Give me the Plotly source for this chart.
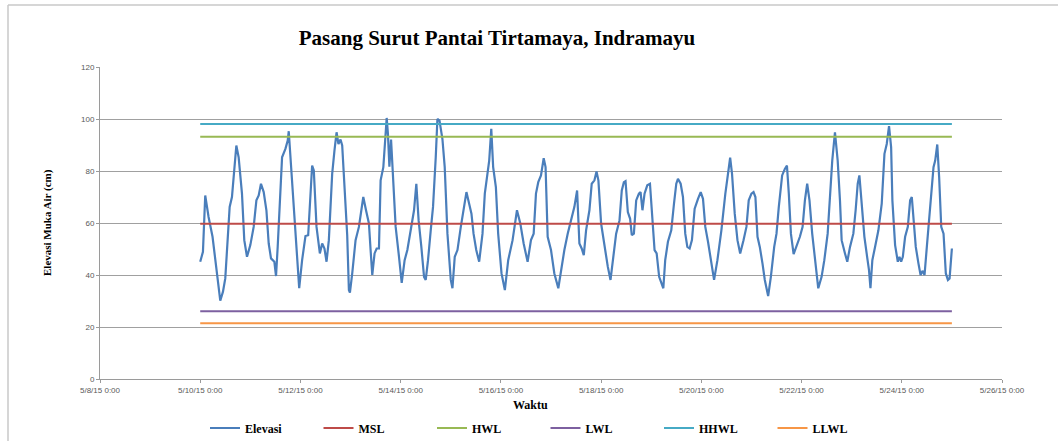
import pandas as pd
import plotly.graph_objects as go

# ---- data ----
start_time = "2015-05-10 00:00"
hours = [0, 1.3, 2.4, 4, 5.9, 7.2, 8.3, 9.6, 10.9, 12, 14.1, 15.2, 17.3, 18.4, 20, 21.1, 22.4,
         24, 25.6, 26.9, 28, 29.1, 30.4, 31.7, 32.8, 33.9, 35.5, 36.3, 37.1, 38.1, 39.2, 40.8,
         41.9, 42.4, 43.5, 44.8, 46.1, 47.4, 48.8, 50.4, 51.7, 52.8, 53.6, 54.4, 55.7, 57.3,
         58.4, 59.5, 60.5, 61.6, 63.2, 64.3, 65.3, 66.2, 67.2, 68, 69.1, 70.4, 71.2, 71.7,
         72.8, 74.4, 76, 78.1, 79.4, 80.8, 81.6, 82.4, 83.5, 84.5, 85.6, 86.4, 87.7, 88.5,
         89.3, 89.9, 90.6, 91.4, 92.2, 93.6, 95.2, 96.5, 97.9, 99.2, 100.8, 102.4, 103.5,
         104.6, 105.9, 107.2, 108, 109.1, 110.4, 111.5, 112.8, 113.6, 114.6, 116, 117.1,
         118.4, 120, 120.8, 121.9, 123.2, 124.8, 126.1, 127.5, 128.8, 129.9, 130.9, 132.2,
         133.6, 135.2, 136.3, 137.6, 138.4, 139.4, 140.3, 141.6, 142.7, 144.3, 145.9, 147.5,
         149.6, 151.7, 153.3, 154.9, 156.8, 158.4, 159.7, 160.8, 161.9, 163.2, 164.5, 165.4,
         166.4, 168, 169.6, 171.5, 172.8, 174.4, 176, 177.6, 179.2, 180.5, 181.6, 182.7,
         183.7, 184.8, 186.4, 187.5, 188.8, 189.8, 190.7, 192, 193.6, 195.2, 196.5, 197.6,
         199.2, 200.8, 201.9, 202.9, 203.7, 204.8, 205.9, 206.7, 207.7, 208.8, 210.1, 210.9,
         211.8, 212.8, 214.1, 215.4, 216.3, 217.6, 218.6, 219.8, 221.8, 222.7, 224, 225.6,
         226.9, 228, 228.8, 230.1, 231.2, 232.3, 233.3, 234.4, 235.5, 236.8, 238.4, 239.7,
         240.8, 241.9, 243.2, 244.5, 246.1, 247.7, 249.6, 251.5, 252.8, 253.8, 254.7, 256,
         257.3, 258.6, 260.2, 261.6, 262.7, 264, 265, 265.9, 266.9, 268, 269.3, 270.4, 272,
         273.3, 274.9, 276, 277.1, 278.7, 280, 281, 281.9, 282.9, 284.2, 285.6, 287.2, 288.5,
         289.6, 290.7, 291.8, 293.1, 294.4, 296, 297.6, 298.9, 300.5, 301.6, 302.7, 304,
         305.3, 306.4, 307.2, 308.8, 309.9, 311.2, 312.8, 313.9, 314.9, 315.7, 316.8, 318.1,
         319.4, 320.3, 321, 321.9, 323.2, 324.8, 326.4, 327.7, 328.8, 329.9, 330.9, 331.5,
         332.8, 334.1, 334.9, 335.7, 336.5, 337.6, 338.9, 340, 340.8, 341.8, 342.7, 344, 345,
         345.9, 346.9, 348, 349.6, 351.2, 352, 353, 353.9, 354.9, 356, 357.1, 358.1, 358.9,
         360]
elevasi = [45.1, 48.9, 70.6, 62.3, 54.7, 45.7, 40.6, 30.1, 33.6, 38.7, 66.2, 70, 89.8, 85.3,
           71.3, 53.4, 47, 51.5, 58.5, 68.7, 70.6, 75.1, 71.9, 64.9, 52.1, 46.4, 45.1, 39.6,
           50.8, 67.4, 85.3, 88.5, 91.7, 95.3, 81.5, 64.9, 50.8, 34.9, 45.7, 55, 55.3, 68.7,
           82.1, 80.2, 58.5, 48.3, 52.1, 50.2, 45.1, 53.4, 78.9, 87.9, 94.9, 90.4, 92.1, 89.8,
           73.8, 55.3, 34.2, 33.2, 40.6, 53.4, 58.5, 70, 64.9, 59.8, 49.6, 40, 48.3, 50.2,
           50.2, 76.4, 81.5, 93, 100.4, 94.3, 81.7, 92.1, 80.2, 58.5, 47, 37, 45.7, 49.6,
           57.2, 64.9, 75.1, 61, 50.8, 39.3, 38.1, 45.7, 57.2, 66.2, 85.3, 100, 99.4, 92.3,
           81.5, 55.9, 38.1, 34.9, 47, 49.6, 58.5, 64.9, 71.9, 67.4, 63.6, 55.9, 49.6, 45.1,
           55.9, 71.3, 78.9, 84, 96.2, 81.5, 73.8, 55.9, 40.6, 34.2, 45.7, 53.4, 64.9, 59.8,
           52.1, 45.1, 53.4, 55.9, 71.3, 75.7, 78.3, 84.9, 81.5, 54.7, 49.6, 40.6, 34.9, 41.9,
           49.6, 55.9, 61, 66.2, 72.5, 52.1, 50.2, 47.6, 57.2, 64.9, 75.1, 76.4, 79.8, 76.4,
           59.8, 50.8, 43.2, 38.1, 45.7, 55.9, 61, 72.5, 75.7, 76.1, 64.2, 61.6, 55.3, 55.9,
           68.7, 71.3, 71.9, 64.9, 71.3, 74.5, 75.1, 63.6, 49.6, 48.3, 39.3, 34.9, 45.7, 52.8,
           57.2, 67.4, 75.1, 77, 75.1, 70, 55.9, 50.8, 50.2, 53.4, 65.5, 69.3, 71.9, 69.3,
           58.5, 52.8, 45.7, 38.1, 45.7, 57.2, 71.3, 80.2, 85.1, 78.9, 63.6, 53.4, 48.3, 53.4,
           58.5, 68.7, 71.3, 71.9, 70, 54.7, 50.8, 44.4, 38.1, 31.9, 39.3, 50.8, 55.9, 66.2,
           78.3, 80.8, 82.1, 71.3, 55.9, 48, 50.8, 54.7, 58.5, 68.7, 75.1, 68.7, 55.9, 45.7,
           34.9, 39.3, 45.7, 55.9, 68.7, 84, 94.9, 84, 68.7, 53.4, 48.3, 45.1, 50.8, 55.9,
           64.9, 75.1, 78.3, 68.7, 54.7, 47, 41.9, 34.9, 45.7, 50.8, 57.2, 67.4, 86.6, 90.4,
           97.3, 89.1, 68.7, 51.5, 45.1, 47, 45.1, 47, 54.7, 58.5, 68.7, 70, 61, 50.8, 44.4,
           40, 41.6, 40, 50.8, 64.9, 81.5, 84, 90.2, 77.6, 58.5, 55.9, 40.6, 38.1, 38.7, 50.2]

levels = {"MSL": 59.7, "HWL": 93.2, "LWL": 26.1, "HHWL": 98.1, "LLWL": 21.4}
level_colors = {"MSL": "#BE4B48", "HWL": "#98B954", "LWL": "#7D60A0",
                "HHWL": "#46AAC5", "LLWL": "#F79646"}
elevasi_color = "#4A7EBB"

x_range = ["2015-05-08 00:00", "2015-05-26 00:00"]
y_ticks = [0, 20, 40, 60, 80, 100, 120]

# ---- build ----
times = pd.Timestamp(start_time) + pd.to_timedelta(hours, unit="h")

fig = go.Figure()
fig.add_trace(go.Scatter(x=times, y=elevasi, mode="lines", name="Elevasi",
                         line=dict(color=elevasi_color, width=2.2)))
t_ends = [times[0], times[-1]]
for name in ["MSL", "HWL", "LWL", "HHWL", "LLWL"]:
    fig.add_trace(go.Scatter(x=t_ends, y=[levels[name]] * 2, mode="lines", name=name,
                             line=dict(color=level_colors[name], width=2)))

serif = "Liberation Serif"
sans = "Liberation Sans"
L, R, T, B = 100, 56, 67, 62
W, H = 1058, 441
pw, ph = W - L - R, H - T - B

fig.update_layout(
    width=W, height=H,
    margin=dict(l=L, r=R, t=T, b=B, autoexpand=False),
    paper_bgcolor="white", plot_bgcolor="white",
    showlegend=True,
    title=dict(text="<b>Pasang Surut Pantai Tirtamaya, Indramayu</b>",
               font=dict(family=serif, size=21, color="black"),
               x=497 / W, xref="container", xanchor="center",
               y=1 - 38 / H, yref="container", yanchor="middle"),
    xaxis=dict(type="date", range=x_range, dtick=2 * 24 * 3600 * 1000,
               tick0="2015-05-08", tickformat="%-m/%-d/%y %-H:%M",
               showgrid=False, showline=True, linecolor="#9a9a9a", linewidth=1,
               ticks="outside", ticklen=3, tickcolor="#9a9a9a",
               tickfont=dict(family=sans, size=8, color="#595959"), zeroline=False),
    yaxis=dict(range=[0, 120], tickvals=y_ticks, showgrid=True, gridcolor="#a0a0a0",
               gridwidth=1, showline=True, linecolor="#9a9a9a", linewidth=1,
               ticks="outside", ticklen=3, tickcolor="#9a9a9a",
               tickfont=dict(family=sans, size=8, color="#595959"), zeroline=False),
    legend=dict(orientation="h", x=(205 - L) / pw, xanchor="left",
                y=(379 - 428) / ph, yanchor="middle",
                font=dict(family=serif, size=12, color="black", weight="bold"),
                entrywidth=68.5, entrywidthmode="pixels", itemwidth=30,
                bgcolor="rgba(0,0,0,0)"),
)

fig.add_annotation(text="<b>Waktu</b>", xref="paper", yref="paper",
                   x=(530 - L) / pw, y=(379 - 405) / ph, showarrow=False,
                   font=dict(family=serif, size=12, color="black"),
                   xanchor="center", yanchor="middle")
fig.add_annotation(text="<b>Elevasi Muka Air (cm)</b>", xref="paper", yref="paper",
                   x=(47 - L) / pw, y=(379 - 223) / ph, showarrow=False, textangle=-90,
                   font=dict(family=serif, size=11, color="black"),
                   xanchor="center", yanchor="middle")

# outer chart-area frame (top and left edges visible)
fig.add_shape(type="line", xref="paper", yref="paper",
              x0=(8 - L) / pw, x1=(W - L) / pw, y0=(379 - 5) / ph, y1=(379 - 5) / ph,
              line=dict(color="#c8c8c8", width=1.5))
fig.add_shape(type="line", xref="paper", yref="paper",
              x0=(8 - L) / pw, x1=(8 - L) / pw, y0=(379 - 5) / ph, y1=(379 - H) / ph,
              line=dict(color="#c8c8c8", width=1.5))

fig.write_html("out.html", config={"displayModeBar": False},
               post_script="document.body.style.margin='0';document.body.style.overflow='hidden';")
